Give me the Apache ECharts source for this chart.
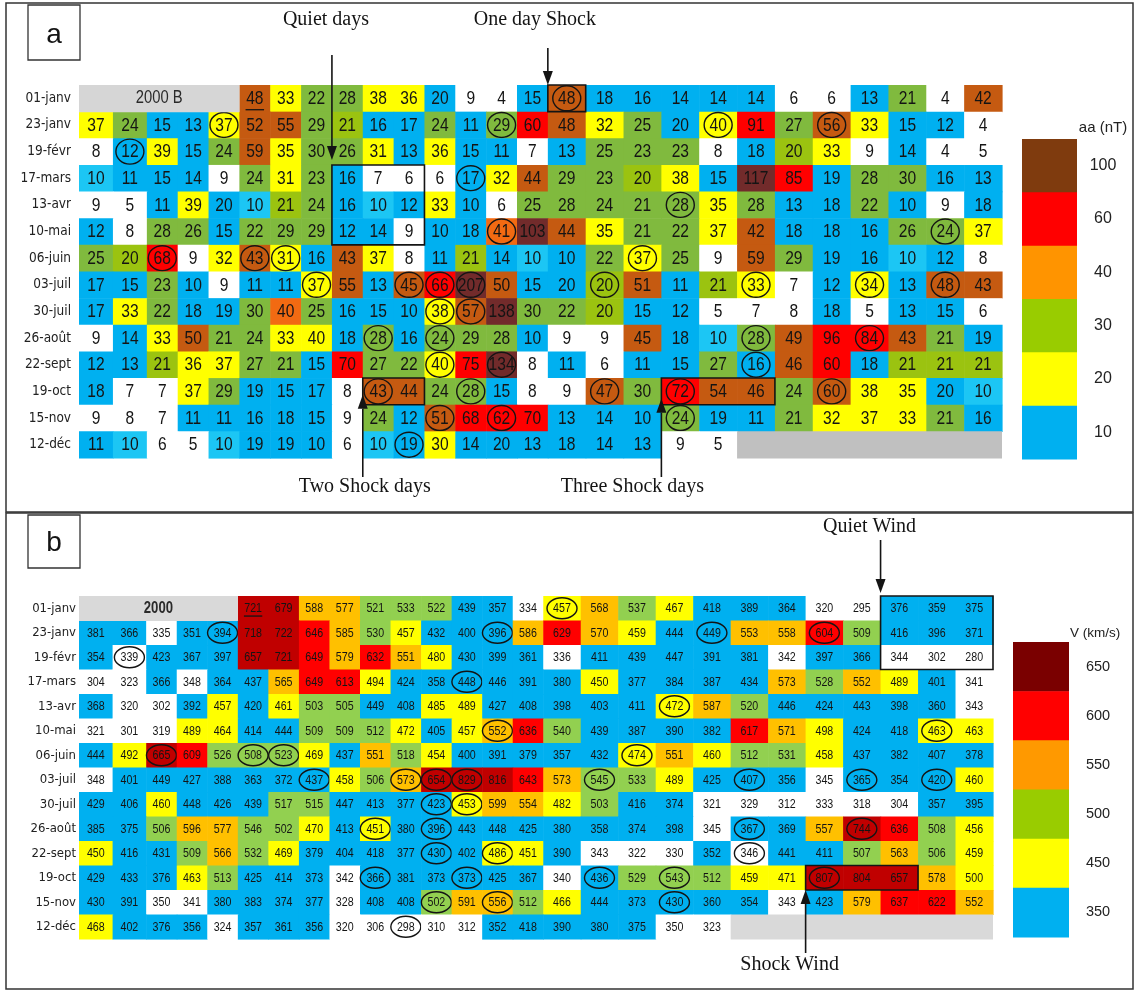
<!DOCTYPE html>
<html>
<head>
<meta charset="utf-8">
<script src="https://cdn.jsdelivr.net/npm/echarts@6/dist/echarts.min.js"></script>
<style>
  html, body { margin: 0; padding: 0; background: #ffffff; }
  #chart { width: 1135px; height: 991px; }
</style>
</head>
<body>
<div id="chart"></div>
<script>
// Bartels rotations of 2000 (27 days each), first day of each rotation
const rowLabels = ['01-janv', '23-janv', '19-févr', '17-mars', '13-avr', '10-mai', '06-juin',
  '03-juil', '30-juil', '26-août', '22-sept', '19-oct', '15-nov', '12-déc'];

// Daily aa index (nT); null = day outside 2000
const aaValues = [
  [null, null, null, null, null, 48, 33, 22, 28, 38, 36, 20, 9, 4, 15, 48, 18, 16, 14, 14, 14, 6, 6, 13, 21, 4, 42],
  [37, 24, 15, 13, 37, 52, 55, 29, 21, 16, 17, 24, 11, 29, 60, 48, 32, 25, 20, 40, 91, 27, 56, 33, 15, 12, 4],
  [8, 12, 39, 15, 24, 59, 35, 30, 26, 31, 13, 36, 15, 11, 7, 13, 25, 23, 23, 8, 18, 20, 33, 9, 14, 4, 5],
  [10, 11, 15, 14, 9, 24, 31, 23, 16, 7, 6, 6, 17, 32, 44, 29, 23, 20, 38, 15, 117, 85, 19, 28, 30, 16, 13],
  [9, 5, 11, 39, 20, 10, 21, 24, 16, 10, 12, 33, 10, 6, 25, 28, 24, 21, 28, 35, 28, 13, 18, 22, 10, 9, 18],
  [12, 8, 28, 26, 15, 22, 29, 29, 12, 14, 9, 10, 18, 41, 103, 44, 35, 21, 22, 37, 42, 18, 18, 16, 26, 24, 37],
  [25, 20, 68, 9, 32, 43, 31, 16, 43, 37, 8, 11, 21, 14, 10, 10, 22, 37, 25, 9, 59, 29, 19, 16, 10, 12, 8],
  [17, 15, 23, 10, 9, 11, 11, 37, 55, 13, 45, 66, 207, 50, 15, 20, 20, 51, 11, 21, 33, 7, 12, 34, 13, 48, 43],
  [17, 33, 22, 18, 19, 30, 40, 25, 16, 15, 10, 38, 57, 138, 30, 22, 20, 15, 12, 5, 7, 8, 18, 5, 13, 15, 6],
  [9, 14, 33, 50, 21, 24, 33, 40, 18, 28, 16, 24, 29, 28, 10, 9, 9, 45, 18, 10, 28, 49, 96, 84, 43, 21, 19],
  [12, 13, 21, 36, 37, 27, 21, 15, 70, 27, 22, 40, 75, 134, 8, 11, 6, 11, 15, 27, 16, 46, 60, 18, 21, 21, 21],
  [18, 7, 7, 37, 29, 19, 15, 17, 8, 43, 44, 24, 28, 15, 8, 9, 47, 30, 72, 54, 46, 24, 60, 38, 35, 20, 10],
  [9, 8, 7, 11, 11, 16, 18, 15, 9, 24, 12, 51, 68, 62, 70, 13, 14, 10, 24, 19, 11, 21, 32, 37, 33, 21, 16],
  [11, 10, 6, 5, 10, 19, 19, 10, 6, 10, 19, 30, 14, 20, 13, 18, 14, 13, 9, 5, null, null, null, null, null, null, null]
];

// Activity class of each aa day, one letter per day
// W quiet, B/C low, Y, L/G moderate, P/O active, R storm, D severe storm, X none
const aaClass = [
  'XXXXXOYGGYYBWWBOBBBBBWWBGWO',
  'YGBBYOOGLBBGBGROYGBYRGOYBBW',
  'WBYBGOYGGYBYBBWBGGGWBLYWBWW',
  'CBBBWGYGBWWWBYOGGLYBDRBGGBB',
  'WWBYBCLGBCBYBWGGGGGYGBBGBWB',
  'BWGGBGGGBBWBBPDOYGGYOBBBGGY',
  'GLRWYOYBOYWBLBCBGYGWOGBBCBW',
  'BBGBWBBYOBORDOBBLOBLYWBYBOO',
  'BYGBBGPGBBBYODGGLBBWWWBWBBW',
  'WBYOGGYYBGBGGGBWWOBCGORROGB',
  'BBLYYGGBRGGYRDWBWBBGBORBLLL',
  'BWWYGBBBWOOGGBWWOGROOGOYYBC',
  'WWWBBBBBWGBORRRBBBGBBGYYYGB',
  'BCWWCBBBWCBYBBBBBBWWXXXXXXX'
];

// Daily solar wind speed V (km/s); null = day outside 2000
const windValues = [
  [null, null, null, null, null, 721, 679, 588, 577, 521, 533, 522, 439, 357, 334, 457, 568, 537, 467, 418, 389, 364, 320, 295, 376, 359, 375],
  [381, 366, 335, 351, 394, 718, 722, 646, 585, 530, 457, 432, 400, 396, 586, 629, 570, 459, 444, 449, 553, 558, 604, 509, 416, 396, 371],
  [354, 339, 423, 367, 397, 657, 721, 649, 579, 632, 551, 480, 430, 399, 361, 336, 411, 439, 447, 391, 381, 342, 397, 366, 344, 302, 280],
  [304, 323, 366, 348, 364, 437, 565, 649, 613, 494, 424, 358, 448, 446, 391, 380, 450, 377, 384, 387, 434, 573, 528, 552, 489, 401, 341],
  [368, 320, 302, 392, 457, 420, 461, 503, 505, 449, 408, 485, 489, 427, 408, 398, 403, 411, 472, 587, 520, 446, 424, 443, 398, 360, 343],
  [321, 301, 319, 489, 464, 414, 444, 509, 509, 512, 472, 405, 457, 552, 636, 540, 439, 387, 390, 382, 617, 571, 498, 424, 418, 463, 463],
  [444, 492, 665, 609, 526, 508, 523, 469, 437, 551, 518, 454, 400, 391, 379, 357, 432, 474, 551, 460, 512, 531, 458, 437, 382, 407, 378],
  [348, 401, 449, 427, 388, 363, 372, 437, 458, 506, 573, 654, 829, 816, 643, 573, 545, 533, 489, 425, 407, 356, 345, 365, 354, 420, 460],
  [429, 406, 460, 448, 426, 439, 517, 515, 447, 413, 377, 423, 453, 599, 554, 482, 503, 416, 374, 321, 329, 312, 333, 318, 304, 357, 395],
  [385, 375, 506, 596, 577, 546, 502, 470, 413, 451, 380, 396, 443, 448, 425, 380, 358, 374, 398, 345, 367, 369, 557, 744, 636, 508, 456],
  [450, 416, 431, 509, 566, 532, 469, 379, 404, 418, 377, 430, 402, 486, 451, 390, 343, 322, 330, 352, 346, 441, 411, 507, 563, 506, 459],
  [429, 433, 376, 463, 513, 425, 414, 373, 342, 366, 381, 373, 373, 425, 367, 340, 436, 529, 543, 512, 459, 471, 807, 804, 657, 578, 500],
  [430, 391, 350, 341, 380, 383, 374, 377, 328, 408, 408, 502, 591, 556, 512, 466, 444, 373, 430, 360, 354, 343, 423, 579, 637, 622, 552],
  [468, 402, 376, 356, 324, 357, 361, 356, 320, 306, 298, 310, 312, 352, 418, 390, 380, 375, 350, 323, null, null, null, null, null, null, null]
];

// Days ringed in both tables [row, day]
const circledDays = [[0, 15], [1, 4], [1, 13], [1, 19], [1, 22], [2, 1], [3, 12], [4, 18], [5, 13], [5, 25],
  [6, 2], [6, 5], [6, 6], [6, 17], [7, 7], [7, 10], [7, 11], [7, 12], [7, 16], [7, 20], [7, 23], [7, 25],
  [8, 11], [8, 12], [9, 9], [9, 11], [9, 20], [9, 23], [10, 11], [10, 13], [10, 20],
  [11, 9], [11, 12], [11, 16], [11, 18], [11, 22], [12, 11], [12, 13], [12, 18], [13, 10]];
const underlinedDays = [[0, 5]];

// Framed groups of days [firstRow, firstDay, lastRow, lastDay, caption, arrow side]
const aaBoxes = [
  [3, 8, 5, 10, 'Quiet days', 'top'],
  [0, 15, 0, 15, 'One day Shock', 'top'],
  [11, 9, 11, 10, 'Two Shock days', 'bottom'],
  [11, 18, 11, 20, 'Three Shock days', 'bottom']
];
const windBoxes = [
  [0, 24, 2, 26, 'Quiet Wind', 'top'],
  [11, 22, 11, 24, 'Shock Wind', 'bottom']
];

const aaBlankLabel = '2000 B';
const windBlankLabel = '2000';

// Colour keys
const aaLegendLabels = ['100', '60', '40', '30', '20', '10'];
const windLegendLabels = ['650', '600', '550', '500', '450', '350'];
const windBreaks = [350, 450, 500, 550, 600, 650];

// ---------- styling and layout ----------
const SANS = "'Liberation Sans', Arial, sans-serif";
const CONDENSED = "'DejaVu Sans Condensed', 'Liberation Sans', sans-serif";
const SERIF = "'Liberation Serif', 'Times New Roman', serif";
const NARROW_SCALE = 0.82;   // horizontal squeeze giving a narrow face
const INK = '#141414';

const AA_COLORS = {
  W: '#FFFFFF', B: '#00B0F0', C: '#1CC6F4', Y: '#FFFF00', L: '#9BC310',
  G: '#80BA3E', P: '#F26A12', O: '#C55A11', R: '#FF0000', D: '#722B2B'
};
const AA_KEYS = Object.keys(AA_COLORS);
const WIND_COLORS = ['#FFFFFF', '#00B0F0', '#FFFF00', '#92D050', '#FFC000', '#FF0000', '#C00000'];
const AA_LEGEND_COLORS = ['#7F3B0E', '#FF0000', '#FF9400', '#99CC00', '#FFFF00', '#00B0F0'];
const WIND_LEGEND_COLORS = ['#7A0000', '#FF0000', '#FF9900', '#99CC00', '#FFFF00', '#00B0F0'];

// Column widths of the day table (relative units)
const COL_UNITS = [];
for (let c = 0; c < 27; c++) COL_UNITS.push(c < 2 ? 1.1 : (c < 15 ? 1 : 1.227));
const EDGES = [0];
COL_UNITS.forEach(u => EDGES.push(EDGES[EDGES.length - 1] + u));
const TOTAL_UNITS = EDGES[EDGES.length - 1];

const CAPTION_LAYOUT = {
  'Quiet days': { dx: -6, textY: 20, tailY: 55, gap: 5 },
  'One day Shock': { dx: -13, textY: 20, tailY: 48, gap: 0 },
  'Two Shock days': { dx: 2, textY: 487, tailY: 477, gap: 10 },
  'Three Shock days': { dx: -29, textY: 487, tailY: 477, gap: 6 },
  'Quiet Wind': { dx: -11, textY: 527, tailY: 540, gap: 3 },
  'Shock Wind': { dx: -16, textY: 965, tailY: 953, gap: 0 }
};

const PANEL_STYLE = [
  { font: 19, rowFont: 13.5, rowMargin: 8, rx: 14, ry: 12.5, blankFont: 18, blankWeight: 'normal',
    blankColors: ['#D6D6D6', '#C0C0C0'] },
  { font: 13, rowFont: 13, rowMargin: 3, rx: 15, ry: 10.5, blankFont: 16, blankWeight: 'bold',
    blankColors: ['#D9D9D9', '#D9D9D9'] }
];

const CIRCLED = new Set(circledDays.map(d => d[0] + ',' + d[1]));
const UNDERLINED = new Set(underlinedDays.map(d => d[0] + ',' + d[1]));

// ---------- data preparation ----------
function cellData(values, classes) {
  const out = [];
  values.forEach((row, r) => row.forEach((v, c) => {
    if (v === null) return;
    out.push(classes ? [c, r, v, AA_KEYS.indexOf(classes[r][c])] : [c, r, v]);
  }));
  return out;
}
function blankSpans(values) {
  // contiguous runs of days outside the year, one merged grey cell each
  const out = [];
  values.forEach((row, r) => {
    let c = 0;
    while (c < row.length) {
      if (row[c] === null) {
        let e = c;
        while (e + 1 < row.length && row[e + 1] === null) e++;
        out.push([c, r, e]);
        c = e + 1;
      } else c++;
    }
  });
  return out;
}

function narrowText(x, y, text, size, weight, fill) {
  return { type: 'text', x: x, y: y, scaleX: NARROW_SCALE,
    style: { text: text, align: 'center', verticalAlign: 'middle', fontSize: size,
      fontWeight: weight || 'normal', fontFamily: SANS, fill: fill || INK } };
}

// ---------- renderers ----------
function makeCellRenderer(st) {
  return function (params, api) {
    const c = api.value(0), r = api.value(1);
    const left = api.coord([EDGES[c], r]);
    const right = api.coord([EDGES[c + 1], r]);
    const h = api.size([0, 1])[1];
    const cx = (left[0] + right[0]) / 2, cy = left[1];
    const key = r + ',' + c;
    const kids = [
      { type: 'rect', shape: { x: left[0], y: cy - h / 2, width: right[0] - left[0] + 0.6, height: h + 0.6 },
        style: { fill: api.visual('color') } },
      narrowText(cx, cy + 0.5, String(api.value(2)), st.font)
    ];
    if (CIRCLED.has(key)) {
      kids.push({ type: 'ellipse', shape: { cx: cx, cy: cy, rx: st.rx, ry: st.ry },
        style: { fill: 'none', stroke: INK, lineWidth: 1.4 } });
    }
    if (UNDERLINED.has(key)) {
      const hw = (right[0] - left[0]) * 0.3, uy = cy + st.font * 0.6;
      kids.push({ type: 'line', shape: { x1: cx - hw, y1: uy, x2: cx + hw, y2: uy },
        style: { stroke: INK, lineWidth: 1.3 } });
    }
    return { type: 'group', children: kids };
  };
}

function makeBlankRenderer(st, label) {
  return function (params, api) {
    const c0 = api.value(0), r = api.value(1), c1 = api.value(2);
    const left = api.coord([EDGES[c0], r]);
    const right = api.coord([EDGES[c1 + 1], r]);
    const h = api.size([0, 1])[1];
    const kids = [{ type: 'rect', shape: { x: left[0], y: left[1] - h / 2, width: right[0] - left[0], height: h + 0.6 },
      style: { fill: st.blankColors[r === 0 ? 0 : 1] } }];
    if (r === 0) kids.push(narrowText((left[0] + right[0]) / 2, left[1], label, st.blankFont, st.blankWeight, '#2a2a2a'));
    return { type: 'group', children: kids };
  };
}

function makeBoxRenderer(boxes) {
  return function (params, api) {
    const b = boxes[params.dataIndex];
    const r0 = b[0], c0 = b[1], r1 = b[2], c1 = b[3], caption = b[4], side = b[5];
    const h = api.size([0, 1])[1];
    const tl = api.coord([EDGES[c0], r0]);
    const br = api.coord([EDGES[c1 + 1], r1]);
    const x0 = tl[0], y0 = tl[1] - h / 2, x1 = br[0], y1 = br[1] + h / 2;
    const L = CAPTION_LAYOUT[caption];
    const ax = x0;
    const dir = side === 'top' ? 1 : -1;           // 1: arrow points down
    const tipY = side === 'top' ? y0 - L.gap : y1 - L.gap;
    const headLen = 14, headHalf = 5;
    const baseY = tipY - dir * headLen;
    return {
      type: 'group',
      children: [
        { type: 'rect', shape: { x: x0, y: y0, width: x1 - x0, height: y1 - y0 },
          style: { fill: 'none', stroke: INK, lineWidth: 1.6 } },
        { type: 'line', shape: { x1: ax, y1: L.tailY, x2: ax, y2: baseY },
          style: { stroke: INK, lineWidth: 1.6 } },
        { type: 'polygon', shape: { points: [[ax, tipY], [ax - headHalf, baseY], [ax + headHalf, baseY]] },
          style: { fill: INK } },
        { type: 'text', x: ax + L.dx, y: L.textY,
          style: { text: caption, align: 'center', verticalAlign: 'middle', fontSize: 20,
            fontFamily: SERIF, fill: INK } }
      ]
    };
  };
}

function makeKeyRenderer(colors) {
  return function (params, api) {
    const i = api.value(1);
    const p = api.coord([0, i]);
    const s = api.size([1, 1]);
    return { type: 'rect', shape: { x: p[0] - s[0] / 2, y: p[1] - s[1] / 2, width: s[0], height: s[1] + 0.6 },
      style: { fill: colors[i] } };
  };
}

// ---------- chart ----------
const chart = echarts.init(document.getElementById('chart'), null, { renderer: 'canvas' });

function rowAxis(gridIndex, st) {
  return {
    type: 'category', gridIndex: gridIndex, data: rowLabels, inverse: true,
    axisLine: { show: false }, axisTick: { show: false }, splitLine: { show: false },
    axisLabel: { fontFamily: CONDENSED, fontSize: st.rowFont, color: '#222', margin: st.rowMargin }
  };
}
function keyAxis(gridIndex, labels, margin, drop, size) {
  return {
    type: 'category', gridIndex: gridIndex, data: labels, inverse: true, position: 'right',
    axisLine: { show: false }, axisTick: { show: false }, splitLine: { show: false },
    axisLabel: { fontFamily: SANS, fontSize: size, color: '#222', margin: margin, align: 'center',
      verticalAlign: 'middle', padding: [drop, 0, 0, 0] }
  };
}
const dayAxis = gi => ({ type: 'value', gridIndex: gi, min: 0, max: TOTAL_UNITS, show: false });
const keyXAxis = gi => ({ type: 'category', gridIndex: gi, data: ['k'], show: false });

const option = {
  backgroundColor: '#ffffff',
  animation: false,
  grid: [
    { left: 79, top: 85, width: 923, height: 373 },
    { left: 79, top: 596, width: 914, height: 343 },
    { left: 1022, top: 139, width: 55, height: 320 },
    { left: 1013, top: 642, width: 56, height: 295 }
  ],
  xAxis: [dayAxis(0), dayAxis(1), keyXAxis(2), keyXAxis(3)],
  yAxis: [rowAxis(0, PANEL_STYLE[0]), rowAxis(1, PANEL_STYLE[1]),
    keyAxis(2, aaLegendLabels, 26, 26, 16), keyAxis(3, windLegendLabels, 29, 32, 14.5)],
  visualMap: [
    { type: 'piecewise', show: false, seriesIndex: 0, dimension: 3,
      pieces: AA_KEYS.map((k, i) => ({ value: i, color: AA_COLORS[k] })) },
    { type: 'piecewise', show: false, seriesIndex: 1, dimension: 2,
      pieces: [
        { lte: windBreaks[0], color: WIND_COLORS[0] },
        { gt: windBreaks[0], lt: windBreaks[1], color: WIND_COLORS[1] },
        { gte: windBreaks[1], lte: windBreaks[2], color: WIND_COLORS[2] },
        { gt: windBreaks[2], lt: windBreaks[3], color: WIND_COLORS[3] },
        { gte: windBreaks[3], lt: windBreaks[4], color: WIND_COLORS[4] },
        { gte: windBreaks[4], lt: windBreaks[5], color: WIND_COLORS[5] },
        { gte: windBreaks[5], color: WIND_COLORS[6] }
      ] }
  ],
  series: [
    { type: 'custom', name: 'aa', xAxisIndex: 0, yAxisIndex: 0, z: 2, clip: false, silent: true,
      renderItem: makeCellRenderer(PANEL_STYLE[0]), data: cellData(aaValues, aaClass) },
    { type: 'custom', name: 'V', xAxisIndex: 1, yAxisIndex: 1, z: 2, clip: false, silent: true,
      renderItem: makeCellRenderer(PANEL_STYLE[1]), data: cellData(windValues, null) },
    { type: 'custom', xAxisIndex: 0, yAxisIndex: 0, z: 2, clip: false, silent: true,
      renderItem: makeBlankRenderer(PANEL_STYLE[0], aaBlankLabel), data: blankSpans(aaValues) },
    { type: 'custom', xAxisIndex: 1, yAxisIndex: 1, z: 2, clip: false, silent: true,
      renderItem: makeBlankRenderer(PANEL_STYLE[1], windBlankLabel), data: blankSpans(windValues) },
    { type: 'custom', xAxisIndex: 0, yAxisIndex: 0, z: 5, clip: false, silent: true,
      renderItem: makeBoxRenderer(aaBoxes), data: aaBoxes.map(b => [b[1], b[0]]) },
    { type: 'custom', xAxisIndex: 1, yAxisIndex: 1, z: 5, clip: false, silent: true,
      renderItem: makeBoxRenderer(windBoxes), data: windBoxes.map(b => [b[1], b[0]]) },
    { type: 'custom', xAxisIndex: 2, yAxisIndex: 2, clip: false, silent: true,
      renderItem: makeKeyRenderer(AA_LEGEND_COLORS), data: aaLegendLabels.map((l, i) => [0, i]) },
    { type: 'custom', xAxisIndex: 3, yAxisIndex: 3, clip: false, silent: true,
      renderItem: makeKeyRenderer(WIND_LEGEND_COLORS), data: windLegendLabels.map((l, i) => [0, i]) }
  ],
  graphic: [
    { type: 'rect', z: 10, shape: { x: 6, y: 3, width: 1127, height: 509 },
      style: { fill: 'none', stroke: '#333', lineWidth: 1.5 } },
    { type: 'rect', z: 10, shape: { x: 6, y: 513, width: 1127, height: 476 },
      style: { fill: 'none', stroke: '#333', lineWidth: 1.5 } },
    { type: 'rect', z: 10, shape: { x: 28, y: 5, width: 52, height: 55 },
      style: { fill: 'none', stroke: '#333', lineWidth: 1.3 } },
    { type: 'text', z: 10, x: 54, y: 35,
      style: { text: 'a', align: 'center', verticalAlign: 'middle', fontSize: 28, fontFamily: SANS, fill: INK } },
    { type: 'rect', z: 10, shape: { x: 28, y: 515, width: 52, height: 53 },
      style: { fill: 'none', stroke: '#333', lineWidth: 1.3 } },
    { type: 'text', z: 10, x: 54, y: 543,
      style: { text: 'b', align: 'center', verticalAlign: 'middle', fontSize: 28, fontFamily: SANS, fill: INK } },
    { type: 'text', z: 10, x: 1103, y: 128,
      style: { text: 'aa (nT)', align: 'center', verticalAlign: 'middle', fontSize: 15, fontFamily: SANS, fill: '#222' } },
    { type: 'text', z: 10, x: 1095, y: 633,
      style: { text: 'V (km/s)', align: 'center', verticalAlign: 'middle', fontSize: 13.5, fontFamily: SANS, fill: '#222' } }
  ]
};

chart.setOption(option);
</script>
</body>
</html>
